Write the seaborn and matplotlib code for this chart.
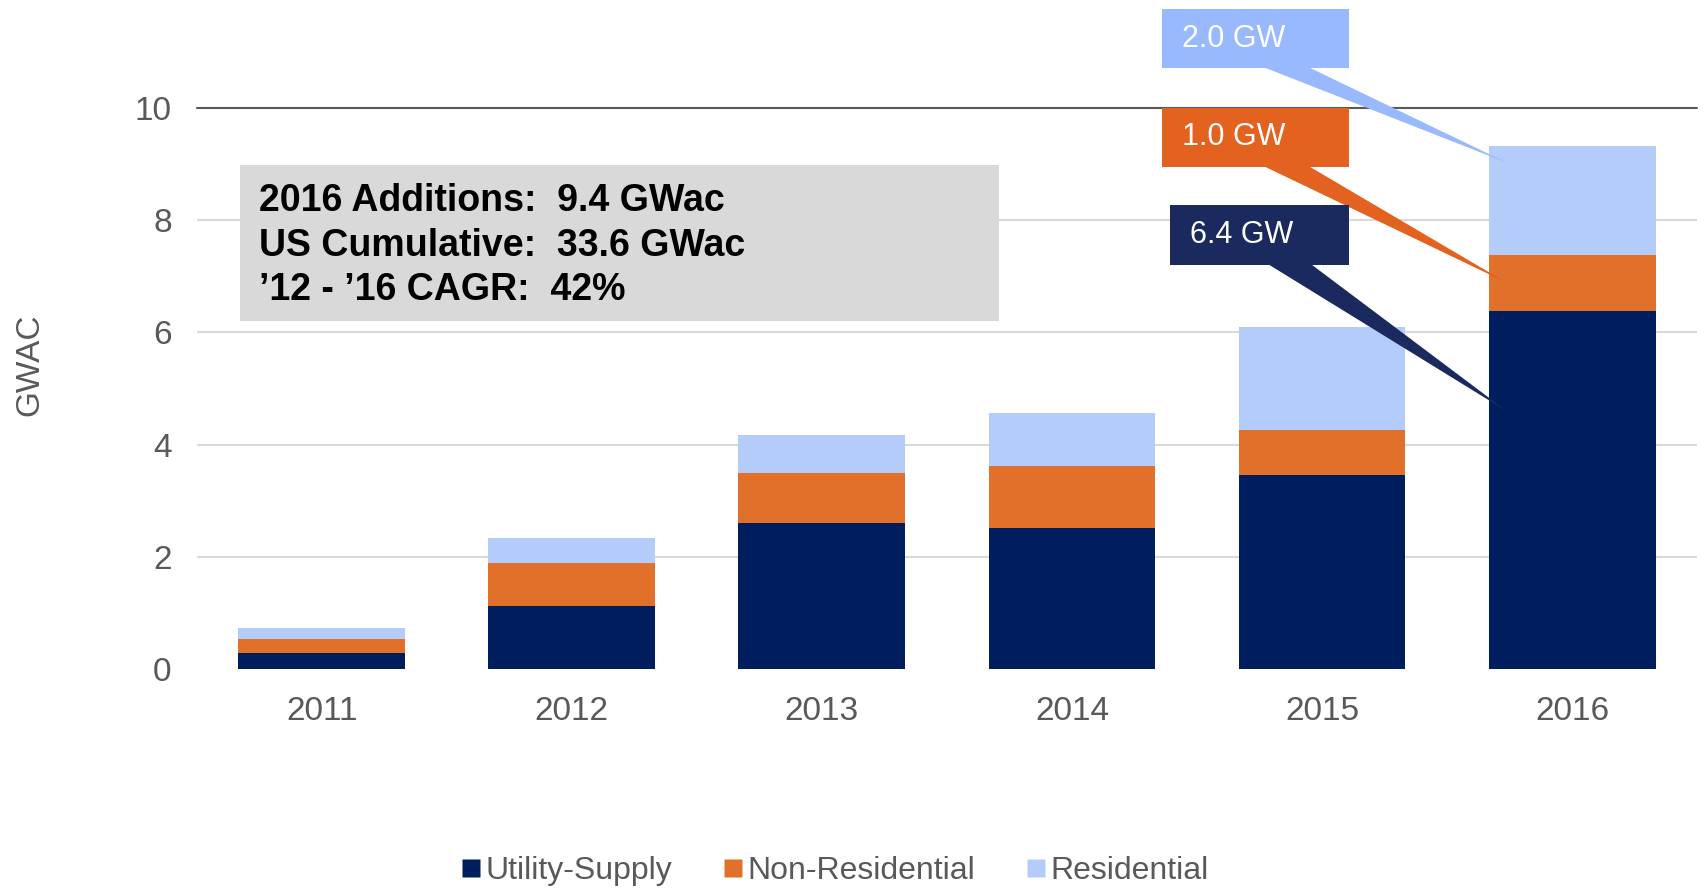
import matplotlib
matplotlib.use('Agg')
import matplotlib.pyplot as plt
import seaborn as sns
import pandas as pd
from matplotlib.patches import Rectangle, Polygon
from matplotlib.lines import Line2D

years = ['2011', '2012', '2013', '2014', '2015', '2016']
utility = [0.29, 1.12, 2.61, 2.51, 3.46, 6.38]
non_residential = [0.25, 0.78, 0.89, 1.11, 0.81, 0.99]
residential = [0.19, 0.44, 0.68, 0.94, 1.82, 1.95]
y_ticks = [0, 2, 4, 6, 8, 10]
callout_labels = ['2.0 GW', '1.0 GW', '6.4 GW']
info_lines = ['2016 Additions:  9.4 GWac', 'US Cumulative:  33.6 GWac', '\u201912 - \u201916 CAGR:  42%']

c_util = '#001E5E'
c_nonres = '#E0702A'
c_res = '#B4CCFA'
grey = '#595959'

sns.set_style('white')
plt.rcParams['font.family'] = ['Liberation Sans', 'DejaVu Sans']

df = pd.DataFrame({'year': years, 'utility': utility,
                   'nonres': non_residential, 'res': residential})
df['mid'] = df['utility'] + df['nonres']
df['total'] = df['mid'] + df['res']

fig = plt.figure(figsize=(17.04, 8.91), dpi=100)
ax = fig.add_axes([0.1154, 0.2487, 0.8806, 0.6305])

# stacked bars: draw totals first, then overlay the lower parts
for col, c in [('total', c_res), ('mid', c_nonres), ('utility', c_util)]:
    sns.barplot(data=df, x='year', y=col, color=c, width=0.667, ax=ax,
                saturation=1, linewidth=0, edgecolor='none')

ax.set_xlim(-0.5, 5.5)
ax.set_ylim(0, 10)
ax.set_yticks(y_ticks)
for t in [2, 4, 6, 8]:
    ax.axhline(t, color='#D9D9D9', lw=1.5, zorder=0)
ax.axhline(10, color=grey, lw=1.5, zorder=0, clip_on=False)
for s in ax.spines.values():
    s.set_visible(False)
ax.tick_params(axis='both', length=0, labelsize=24, labelcolor=grey)
ax.tick_params(axis='y', pad=18)
ax.tick_params(axis='x', pad=19)
ax.set_xlabel('')
ax.set_ylabel('GWAC', fontsize=24, color=grey)
ax.yaxis.set_label_coords(-0.101, 0.542)

# info box
ax.add_patch(Rectangle((-0.327, 6.20), 3.036, 2.78, facecolor='#D9D9D9',
                       edgecolor='none', zorder=3))
for i, line in enumerate(info_lines):
    ax.text(-0.25, 8.33 - i * 0.79, line, fontsize=27, fontweight='bold',
            color='black', va='center', ha='left', zorder=4)

# callouts (box left, box bottom, box top, tail base x0, x1, tip x, tip y)
callouts = [
    (3.362, 10.70, 11.76, 3.766, 3.946, 4.744, 9.01, '#99B9FF'),
    (3.362, 8.94, 10.00, 3.766, 3.946, 4.740, 6.88, '#E3621F'),
    (3.393, 7.20, 8.27, 3.782, 3.954, 4.744, 4.58, '#1B2A5E'),
]
for lab, (bx, by0, by1, t0, t1, tx, ty, col) in zip(callout_labels, callouts):
    ax.add_patch(Rectangle((bx, by0), 4.106 - bx, by1 - by0, facecolor=col,
                           edgecolor='none', zorder=5, clip_on=False))
    ax.add_patch(Polygon([(t0, by0 + 0.02), (t1, by0 + 0.02), (tx, ty)],
                         closed=True, facecolor=col, edgecolor='none',
                         zorder=5, clip_on=False))
    ax.text(bx + 0.08, (by0 + by1) / 2, lab, fontsize=22, color='white',
            va='center', ha='left', zorder=6, clip_on=False)

handles = [Line2D([0], [0], marker='s', ls='none', markersize=13,
                  markerfacecolor=c, markeredgecolor='none')
           for c in [c_util, c_nonres, c_res]]
fig.legend(handles, ['Utility-Supply', 'Non-Residential', 'Residential'],
           loc='center', bbox_to_anchor=(0.489, 0.022), ncol=3, frameon=False,
           fontsize=23, labelcolor=grey, handletextpad=0.05,
           columnspacing=1.5, handlelength=0.8)

fig.savefig('out.png', dpi=100)
